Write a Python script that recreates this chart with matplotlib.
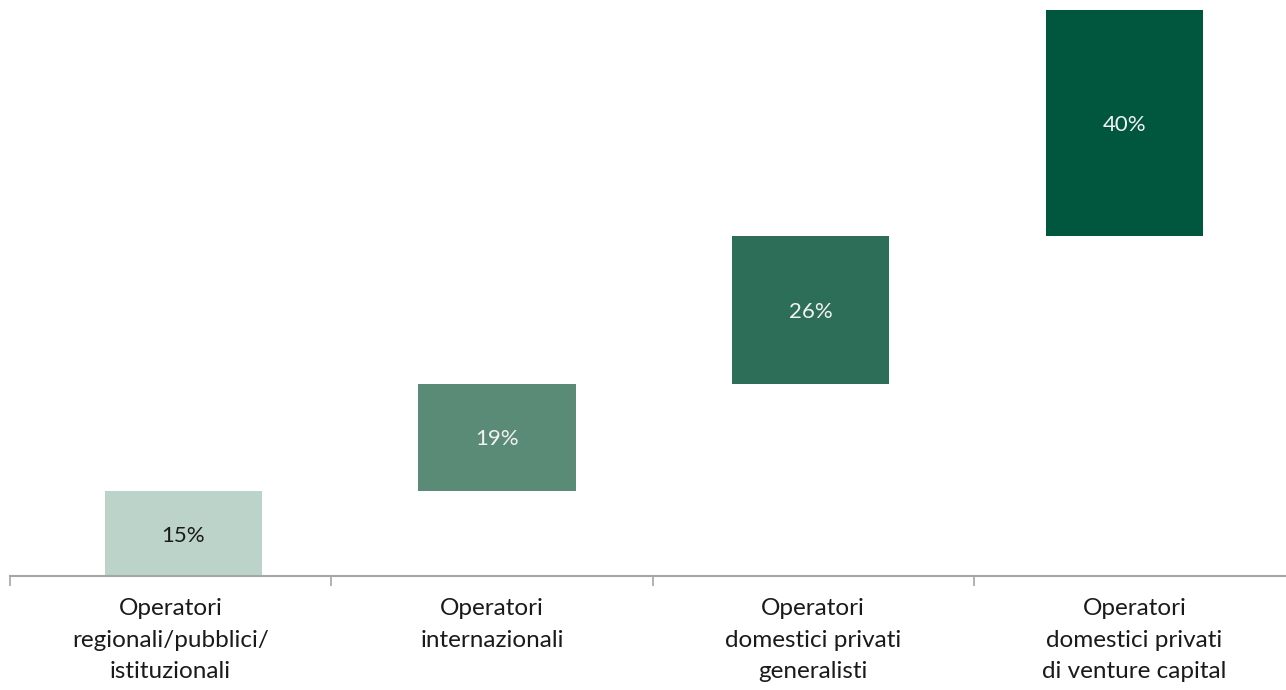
import matplotlib
matplotlib.use("Agg")
import matplotlib.pyplot as plt

categories = ["Operatori\nregionali/pubblici/\nistituzionali",
              "Operatori\ninternazionali",
              "Operatori\ndomestici privati\ngeneralisti",
              "Operatori\ndomestici privati\ndi venture capital"]
values = [15, 19, 26, 40]
labels = ["15%", "19%", "26%", "40%"]

colors = ["#bcd3c9", "#5a8b77", "#2d6e58", "#00573e"]
text_colors = ["#1a1a1a", "#f2f2f2", "#f2f2f2", "#f2f2f2"]

plt.rcParams['font.family'] = ['Lato', 'DejaVu Sans']

fig = plt.figure(figsize=(12.86, 6.9), dpi=100)
W, H = 1286, 690
x0, x1 = 10, 1295
y0, y1 = 576, 10
ax = fig.add_axes([x0 / W, (H - y0) / H, (x1 - x0) / W, (y0 - y1) / H])

bottoms = []
acc = 0
for v in values:
    bottoms.append(acc)
    acc += v

xpos = [0.039 + i * 0.977 for i in range(len(values))]
ax.bar(xpos, values, bottom=bottoms, width=0.489, color=colors, linewidth=0)
for x, b, v, lab, tc in zip(xpos, bottoms, values, labels, text_colors):
    ax.text(x, b + v / 2, lab, ha='center', va='center_baseline', fontsize=16, color=tc)

ax.set_xlim(-0.5, 3.5)
ax.set_ylim(0, 100)
ax.set_yticks([])
for s in ['top', 'right', 'left']:
    ax.spines[s].set_visible(False)
ax.spines['bottom'].set_color('#a6a6a6')
ax.spines['bottom'].set_linewidth(1.5)

ax.set_xticks(range(len(categories)))
ax.set_xticklabels(categories, fontsize=17.5, color='#1a1a1a', linespacing=1.62)
ax.tick_params(axis='x', which='major', length=0, pad=16)
ax.set_xticks([-0.5, 0.5, 1.5, 2.5, 3.5], minor=True)
ax.tick_params(axis='x', which='minor', length=7, width=1.2, color='#a6a6a6', direction='out')

fig.savefig("out.png", dpi=100)
